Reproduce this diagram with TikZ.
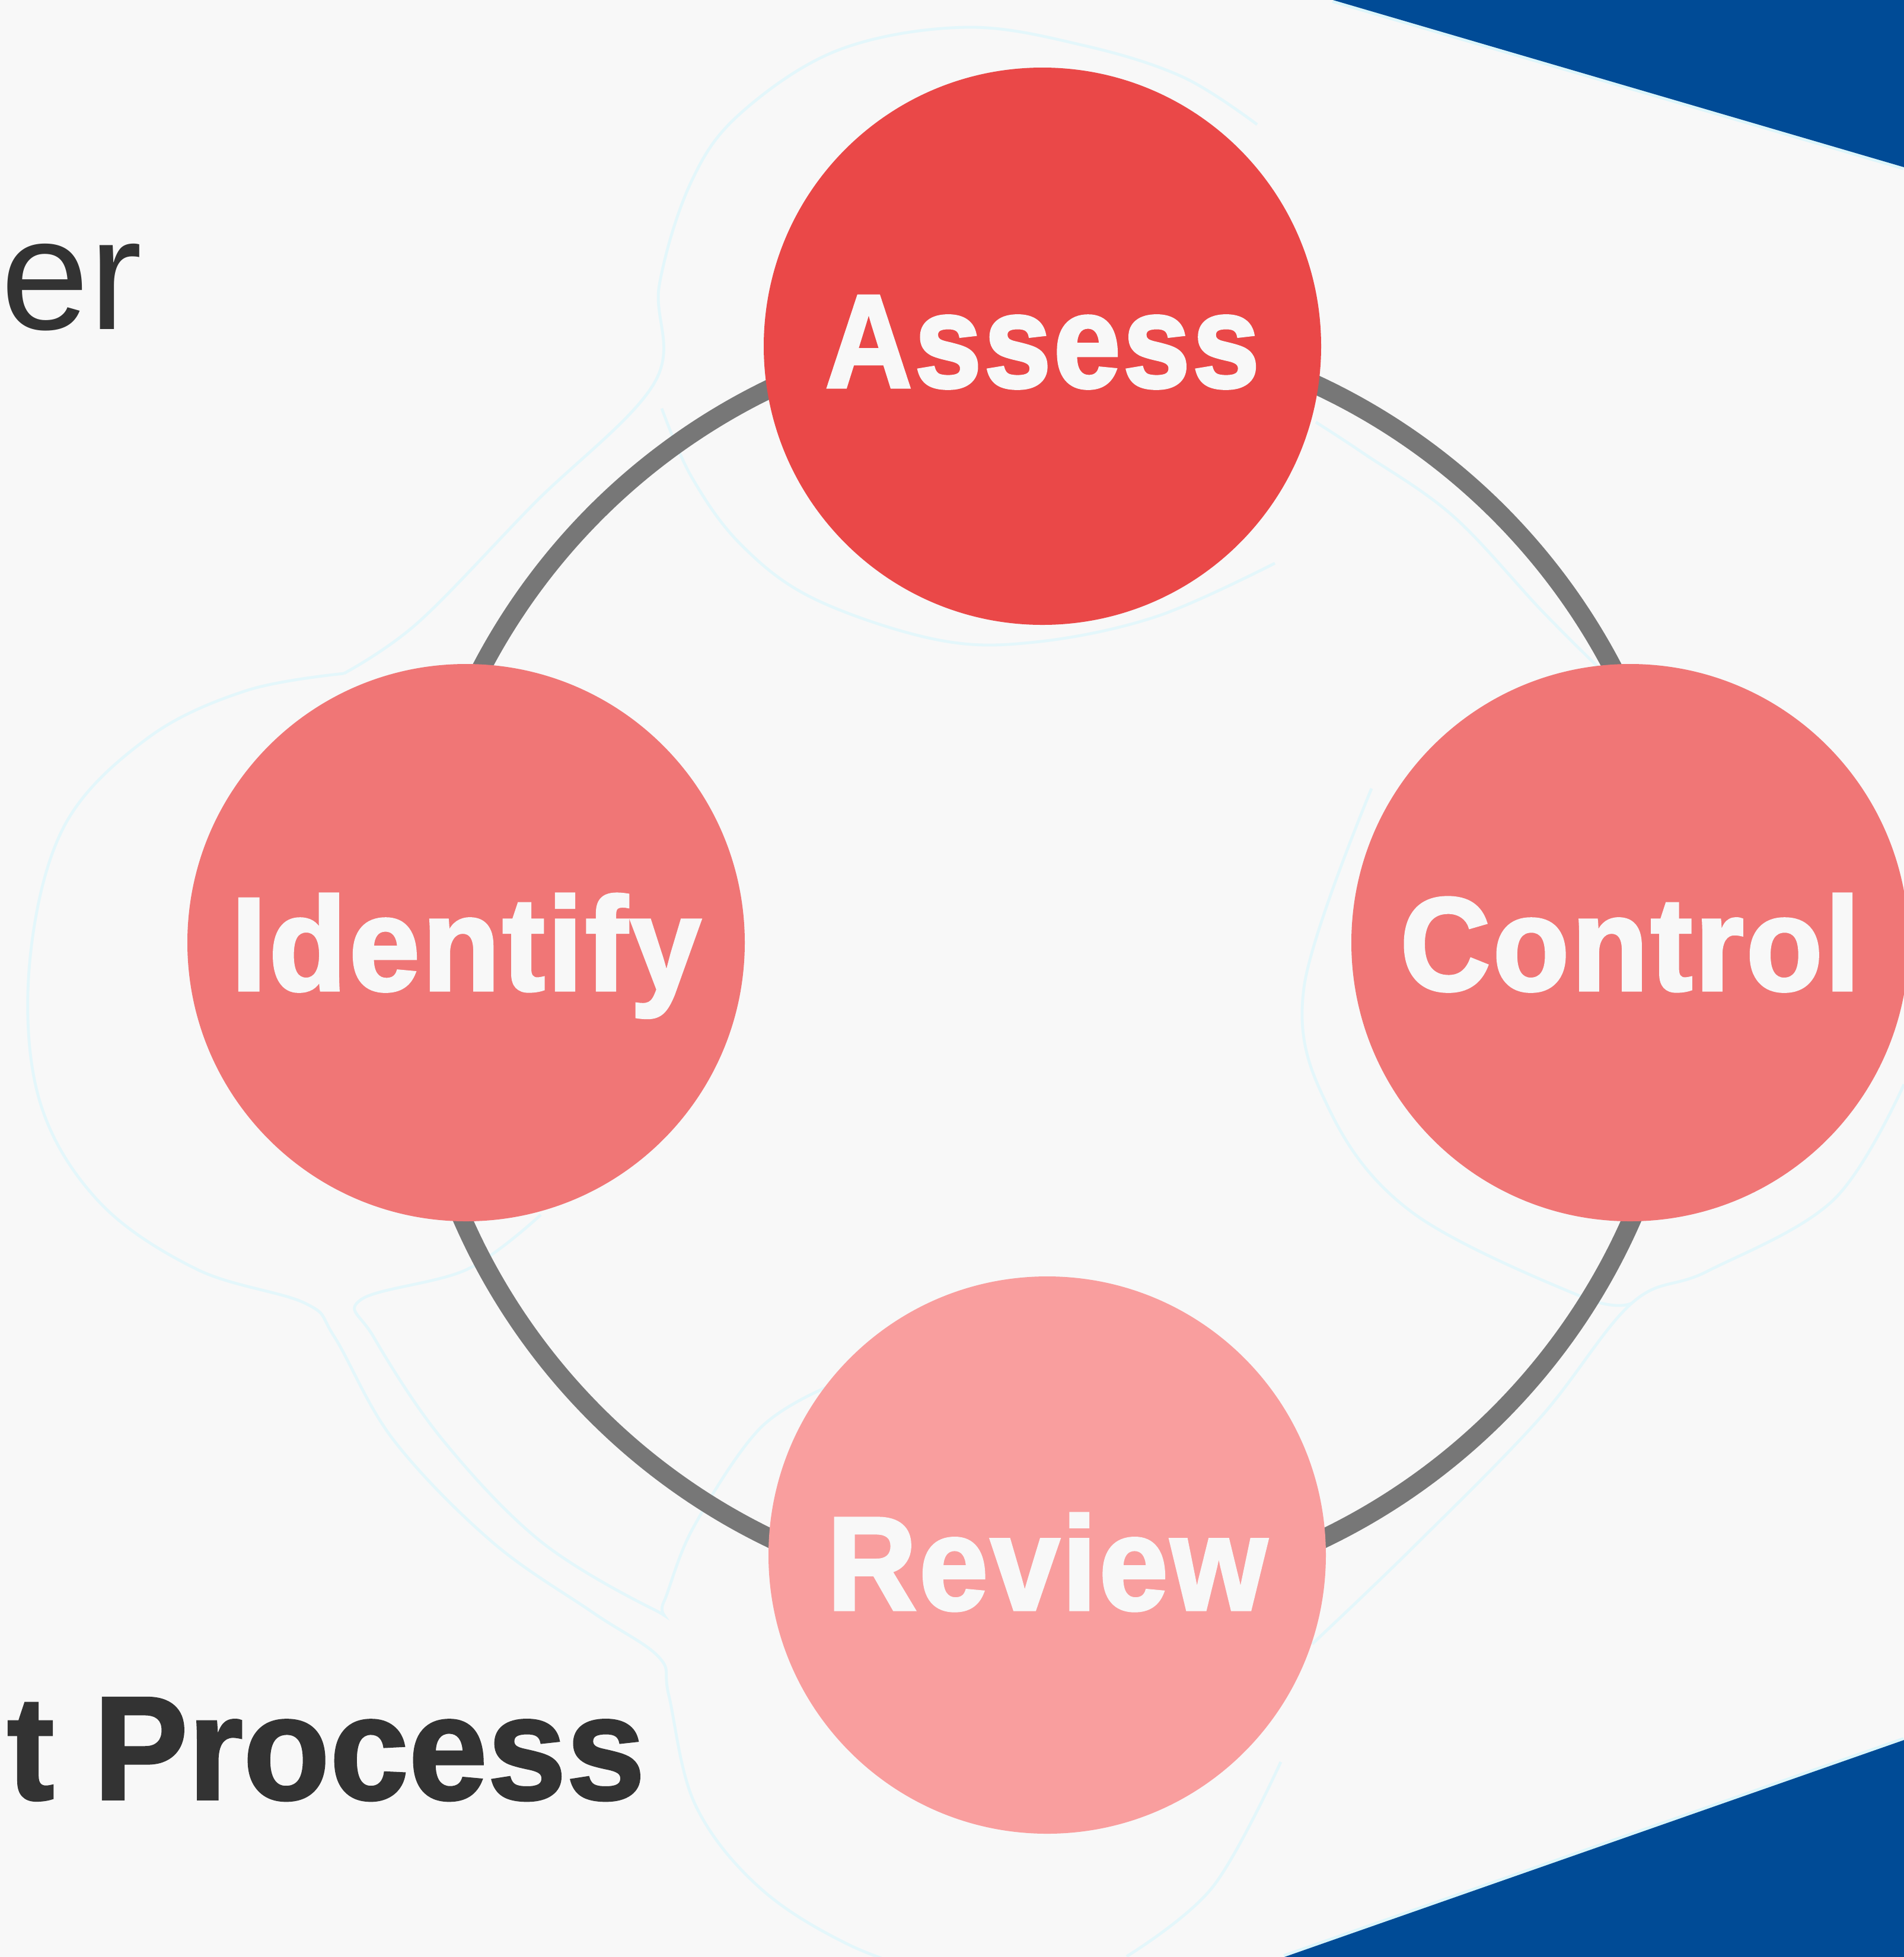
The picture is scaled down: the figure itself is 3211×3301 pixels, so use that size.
\documentclass[tikz,border=0pt]{standalone}
\usepackage{fontspec}
\setmainfont{Liberation Sans}
\newfontfamily\lblfont{Liberation Sans}
\newcommand\stagefont[1]{\lblfont\bfseries\fontsize{56pt}{60pt}\selectfont\addfontfeature{FakeStretch=#1,FakeBold=2.2,LetterSpace=2.0}}
\definecolor{bgcol}{HTML}{F8F8F8}
\definecolor{bandblue}{HTML}{004B96}
\definecolor{ringcol}{HTML}{777777}
\definecolor{assesscol}{HTML}{EA4848}
\definecolor{midcol}{HTML}{F07676}
\definecolor{reviewcol}{HTML}{F99E9E}
\definecolor{darktext}{HTML}{333333}
\definecolor{labeltext}{HTML}{F8F8F8}
\definecolor{glowline}{HTML}{DDF6FB}
\definecolor{faintline}{HTML}{E4F7FB}
\tikzset{
  stage/.style={circle, minimum size=235pt, inner sep=0pt, text=labeltext,
    text height=40.1pt, text depth=0pt},
  ringline/.style={draw=ringcol, line width=8pt},
  edgeglow/.style={draw=glowline, line width=2.5pt},
  glow/.style={draw=faintline, line width=1.2pt, smooth, tension=0.6},
  titletext/.style={inner sep=0pt, text=darktext}
}
\begin{document}
\begin{tikzpicture}[x=0.25pt,y=-0.25pt]
\path[use as bounding box] (0,0) rectangle (3211,3301);
\fill[bgcol] (0,0) rectangle (3211,3301);
\begin{scope}
\clip (0,0) rectangle (3211,3301);
% faint background outlines
\draw[glow] plot coordinates {(580,1136) (705,1050) (900,850) (1104,645) (1112,480) (1166,306) (1249,191) (1415,84) (1630,46) (1829,77) (1995,130) (2120,210)};
\draw[glow] plot coordinates {(580,1136) (415,1165) (249,1245) (108,1394) (50,1624) (66,1854) (166,2026) (332,2141) (514,2198) (564,2255) (663,2428) (829,2600) (1000,2720) (1111,2795) (1128,2860) (1172,3043) (1280,3183) (1433,3281) (1600,3340)};
\draw[glow] plot coordinates {(912,2049) (788,2141) (609,2192) (630,2255) (746,2428) (912,2600) (1103,2715) (1119,2703) (1169,2577) (1280,2411) (1394,2340)};
\draw[glow] plot coordinates {(1116,689) (1166,804) (1249,918) (1373,1010) (1580,1079) (1746,1083) (1950,1040) (2150,950)};
\draw[glow] plot coordinates {(2219,712) (2300,765) (2450,870) (2600,1030) (2700,1130)};
\draw[glow] plot coordinates {(2313,1330) (2199,1666) (2242,1872) (2383,2046) (2667,2187) (2752,2198)};
\draw[glow] plot coordinates {(3211,1829) (3092,2024) (2880,2144) (2752,2198) (2596,2393) (2383,2610) (2213,2773)};
\draw[glow] plot coordinates {(2160,2972) (2045,3183) (1900,3300)};
% corner bands
\coordinate (tA) at (2248,0);
\coordinate (tB) at (3211,0);
\coordinate (tC) at (3211,282);
\coordinate (bA) at (2166,3301);
\coordinate (bB) at (3211,2935);
\coordinate (bC) at (3211,3301);
\draw[edgeglow] (tA) -- (tC);
\draw[edgeglow] (bA) -- (bB);
\fill[bandblue] (tA) -- (tB) -- (tC) -- cycle;
\fill[bandblue] (bA) -- (bB) -- (bC) -- cycle;
% ring
\coordinate (ringc) at (1766,1625);
\draw[ringline] (ringc) circle[radius=269pt];
% stages
\node[stage, fill=assesscol, font=\stagefont{0.905}, text height=34.6pt] (assess) at (1758,584) {Assess};
\node[stage, fill=midcol, font=\stagefont{0.955}] (identify) at (786,1590) {Identify};
\node[stage, fill=midcol, font=\stagefont{0.94}] (control) at (2749,1590) {Control};
\node[stage, fill=reviewcol, font=\stagefont{0.932}, text height=46pt] (review) at (1766,2623) {Review};
% titles (partly off the page)
\node[titletext, anchor=base east, font=\fontsize{67pt}{70pt}\selectfont] (titleA) at (241,555) {er};
\node[titletext, anchor=base east, font={\bfseries\fontsize{62.25pt}{66pt}\selectfont\addfontfeature{FakeStretch=0.96,FakeBold=1.5}}] (titleB) at (1089,3035) {t Process};
\end{scope}
\end{tikzpicture}
\end{document}
